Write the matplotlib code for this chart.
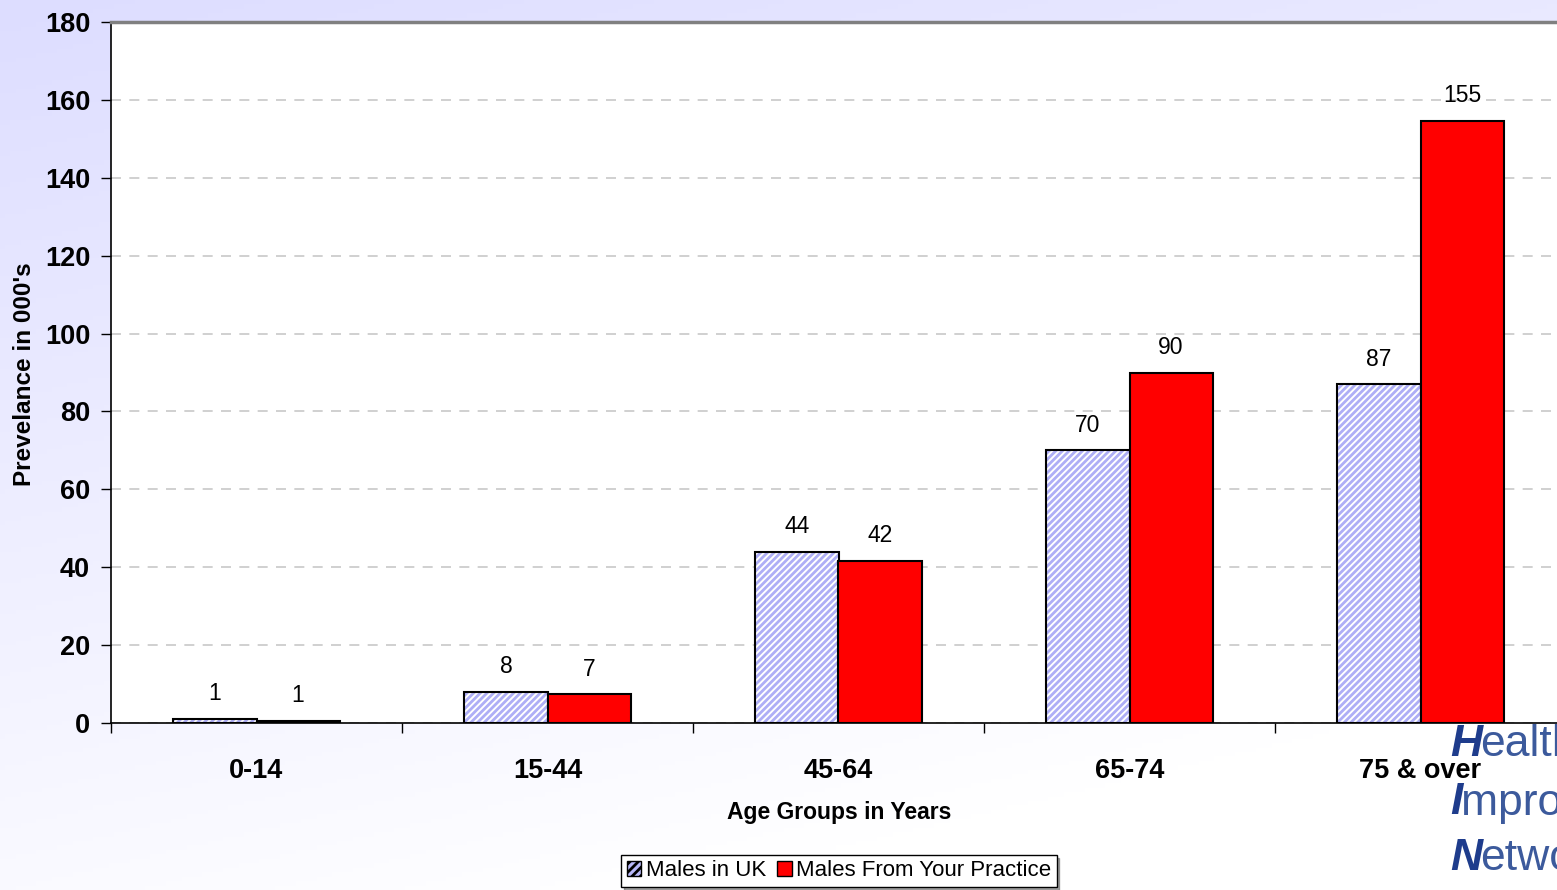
import numpy as np
import matplotlib.pyplot as plt
import matplotlib.patches as mpatches

### chart data
age_groups = ['0-14', '15-44', '45-64', '65-74', '75 & over']
males_uk = [1.0, 8.0, 44.0, 70.0, 87.0]
males_practice = [0.6, 7.4, 41.6, 90.0, 154.6]
y_ticks = [0, 20, 40, 60, 80, 100, 120, 140, 160, 180]

plt.rcParams['font.family'] = ['Liberation Sans', 'DejaVu Sans']
plt.rcParams['hatch.linewidth'] = 2.0

fig = plt.figure(figsize=(15.57, 8.90), dpi=100)

### background gradient (lavender at top fading to white)
bg = fig.add_axes([0, 0, 1, 1], zorder=-10)
yy, xx = np.mgrid[0:1:200j, 0:1:300j]
t = np.clip(yy * 0.85 + xx * 0.35, 0, 1)
top = np.array([0xdd, 0xdd, 0xff]) / 255.0
bot = np.array([1.0, 1.0, 1.0])
img = top[None, None, :] * (1 - t[..., None]) + bot[None, None, :] * t[..., None]
bg.imshow(img, aspect='auto', extent=[0, 1, 0, 1], origin='upper')
bg.axis('off')

### main axes; runs a little past the right edge like the original
ax = fig.add_axes([111 / 1557, 1 - 723 / 890, 1455 / 1557, 701 / 890])
ax.set_facecolor('white')

x = np.arange(len(age_groups))
w = 0.286

### hatched UK bars: hatch layer then a black outline
ax.bar(x - w / 2, males_uk, width=w, color='white', edgecolor='#aeaef6',
       hatch='/////', linewidth=0, zorder=3)
ax.bar(x - w / 2, males_uk, width=w, fill=False, edgecolor='black',
       linewidth=1.5, zorder=4)
ax.bar(x + w / 2, males_practice, width=w, color='#ff0000', edgecolor='black',
       linewidth=1.5, zorder=4)

### value labels
for xi, v in zip(x, males_uk):
    ax.text(xi - w / 2, v + 3.5, '%.0f' % v, ha='center', va='bottom', fontsize=16.5)
for xi, v in zip(x, males_practice):
    ax.text(xi + w / 2, v + 3.5, '%.0f' % v, ha='center', va='bottom', fontsize=16.5)

ax.set_xlim(-0.5, 4.5)
ax.set_ylim(0, 180)
ax.set_yticks(y_ticks)
ax.set_yticklabels([str(v) for v in y_ticks], fontsize=19.5, fontweight='bold')
ax.set_xticks(x)
ax.set_xticklabels(age_groups, fontsize=19.5, fontweight='bold')
ax.set_xticks(np.arange(-0.5, 4.6, 1.0), minor=True)
ax.tick_params(axis='x', which='major', length=0, pad=25)
ax.tick_params(axis='x', which='minor', length=7, width=1, direction='out')
ax.tick_params(axis='y', length=7, width=1, direction='out', pad=8)

ax.yaxis.grid(True, linestyle=(0, (6, 5)), color='#c8c8c8', linewidth=1.2, zorder=0)
ax.set_axisbelow(True)

ax.spines['right'].set_visible(False)
ax.spines['top'].set_color('#808080')
ax.spines['top'].set_linewidth(2.5)
ax.spines['left'].set_linewidth(1.2)
ax.spines['bottom'].set_linewidth(1.2)

ax.set_xlabel('Age Groups in Years', fontsize=16.5, fontweight='bold')
ax.set_ylabel("Prevelance in 000's", fontsize=17.5, fontweight='bold')
ax.xaxis.set_label_coords((839 - 111) / 1455, -(801 - 723) / 701)
ax.yaxis.set_label_coords(-(111 - 36) / 1455, (723 - 374) / 701)

### legend
uk_patch = mpatches.Patch(facecolor='#b8b8f8', edgecolor='black', hatch='////', label='Males in UK')
pr_patch = mpatches.Patch(facecolor='#ff0000', edgecolor='black', label='Males From Your Practice')
leg = fig.legend(handles=[uk_patch, pr_patch], loc='center', bbox_to_anchor=(839 / 1557, 1 - 871 / 890),
                 ncol=2, fontsize=16, frameon=True, fancybox=False, shadow=True,
                 handlelength=0.65, handleheight=0.65, handletextpad=0.2, columnspacing=0.5,
                 borderpad=0.25, borderaxespad=0)
leg.get_frame().set_edgecolor('black')
leg.get_frame().set_linewidth(1.0)

### partial logo in the bottom right corner
renderer = fig.canvas.get_renderer()
for word, yc in zip(['Health', 'Improvement', 'Network'], [745, 803, 859]):
    first = fig.text(1450 / 1557, 1 - yc / 890, word[0], color='#1e3c8c', fontsize=32,
                     fontstyle='italic', fontweight='bold', va='center', ha='left')
    bb = first.get_window_extent(renderer=renderer)
    fig.text(bb.x1 / 1557 - 0.001, 1 - yc / 890, word[1:], color='#3c5a9c', fontsize=32,
             va='center', ha='left')

fig.savefig('out.png', dpi=100)
